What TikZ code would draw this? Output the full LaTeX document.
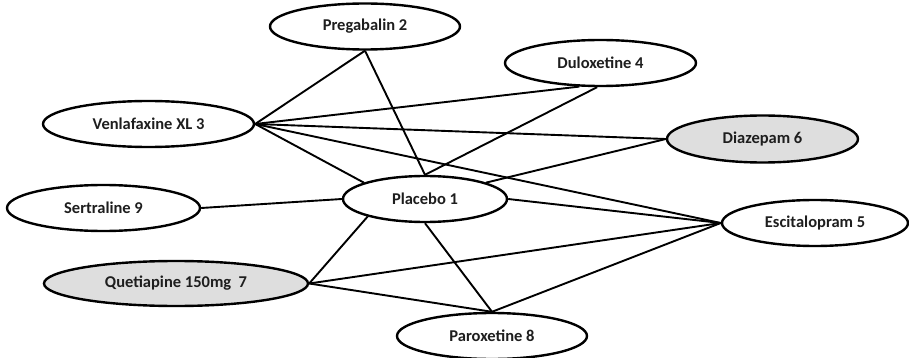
\documentclass[tikz,border=0pt]{standalone}
\usepackage{fontspec}
\setmainfont{Carlito}
\usetikzlibrary{shapes.geometric}
\definecolor{fillgray}{RGB}{222,222,222}
\definecolor{txt}{RGB}{30,30,30}
\tikzset{
  drug/.style={ellipse, draw=black, line width=2.4pt, fill=white, inner sep=0pt,
    font=\fontsize{16.5}{18}\selectfont\bfseries, text=txt},
  shaded/.style={fill=fillgray},
  link/.style={line width=1.9pt, black}
}
\begin{document}
\begin{tikzpicture}[x=1pt,y=-1pt]
\useasboundingbox (0,0) rectangle (909,358);
\node[drug, minimum width=190pt, minimum height=46pt] (pre) at (365,26.5) {Pregabalin 2};
\node[drug, minimum width=211pt, minimum height=46pt] (ven) at (148.5,124) {Venlafaxine XL 3};
\node[drug, minimum width=191pt, minimum height=46pt] (dul) at (600.5,63) {Duloxetine 4};
\node[drug, shaded, minimum width=191pt, minimum height=47pt] (dia) at (762.5,139) {Diazepam 6};
\node[drug, minimum width=193pt, minimum height=46pt] (ser) at (103.5,208) {Sertraline 9};
\node[drug, minimum width=164pt, minimum height=46pt] (plc) at (425,199) {Placebo 1};
\node[drug, minimum width=186pt, minimum height=46pt] (esc) at (815,223) {Escitalopram 5};
\node[drug, shaded, minimum width=264pt, minimum height=45pt] (que) at (176,283.5) {Quetiapine 150mg\ \ 7};
\node[drug, minimum width=190pt, minimum height=46pt] (par) at (492,336) {Paroxetine 8};
% connectors
\draw[link] (ven.east) -- (pre.south);
\draw[link] (pre.south) -- (plc.north);
\draw[link] (ven.east) -- (dul.228);
\draw[link] (dul.262) -- (plc.north);
\draw[link] (ven.east) -- (dia.west);
\draw[link] (ven.east) -- (esc.west);
\draw[link] (ven.east) -- (plc.165);
\draw[link] (dia.west) -- (plc.15);
\draw[link] (plc.east) -- (esc.west);
\draw[link] (ser.east) -- (plc.west);
\draw[link] (que.east) -- (plc.197);
\draw[link] (que.east) -- (esc.west);
\draw[link] (que.east) -- (par.north);
\draw[link] (plc.south) -- (par.north);
\draw[link] (par.north) -- (esc.west);
\end{tikzpicture}
\end{document}
